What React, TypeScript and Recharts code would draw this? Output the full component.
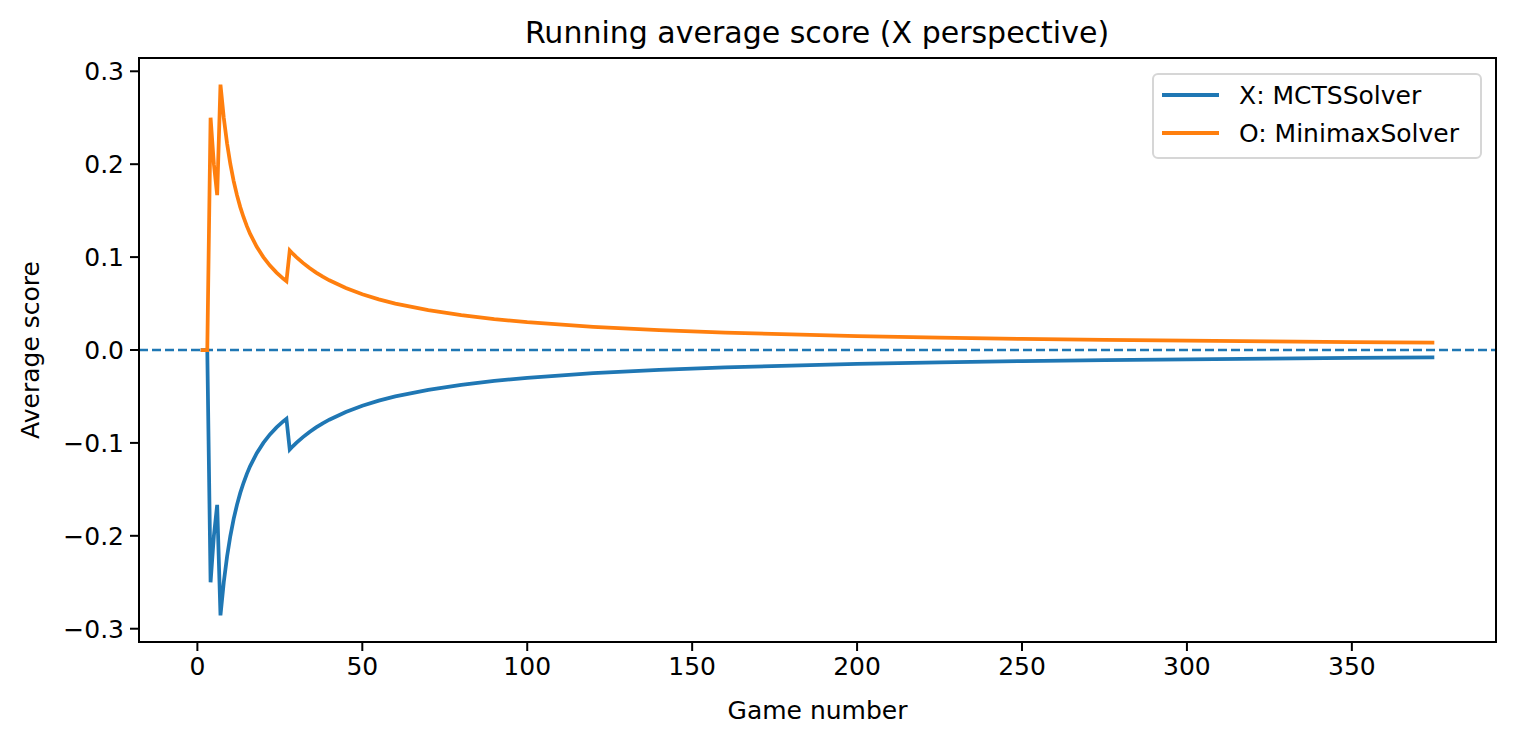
import { LineChart, Line, XAxis, YAxis, ReferenceLine, Label } from 'recharts';

// game index and running averages
const games = [1, 2, 3, 4, 5, 6, 7, 8, 9, 10, 11, 12, 13, 14, 15, 16, 18, 20, 22, 24, 26, 27, 28, 29, 30, 32, 34, 36, 38, 40, 45, 50, 55, 60, 70, 80, 90, 100, 120, 140, 160, 180, 200, 225, 250, 275, 300, 325, 350, 375];
const xScore = [0, 0, 0, -0.25, -0.2, -0.1667, -0.2857, -0.25, -0.2222, -0.2, -0.1818, -0.1667, -0.1538, -0.1429, -0.1333, -0.125, -0.1111, -0.1, -0.0909, -0.0833, -0.0769, -0.0741, -0.1071, -0.1034, -0.1, -0.0938, -0.0882, -0.0833, -0.0789, -0.075, -0.0667, -0.06, -0.0545, -0.05, -0.0429, -0.0375, -0.0333, -0.03, -0.025, -0.0214, -0.0188, -0.0167, -0.015, -0.0133, -0.012, -0.0109, -0.01, -0.0092, -0.0086, -0.008];
const oScore = [0, 0, 0, 0.25, 0.2, 0.1667, 0.2857, 0.25, 0.2222, 0.2, 0.1818, 0.1667, 0.1538, 0.1429, 0.1333, 0.125, 0.1111, 0.1, 0.0909, 0.0833, 0.0769, 0.0741, 0.1071, 0.1034, 0.1, 0.0938, 0.0882, 0.0833, 0.0789, 0.075, 0.0667, 0.06, 0.0545, 0.05, 0.0429, 0.0375, 0.0333, 0.03, 0.025, 0.0214, 0.0188, 0.0167, 0.015, 0.0133, 0.012, 0.0109, 0.01, 0.0092, 0.0086, 0.008];

const xTicks = [0, 50, 100, 150, 200, 250, 300, 350];
const yTicks = [-0.3, -0.2, -0.1, 0, 0.1, 0.2, 0.3];

const seriesNames = ['X: MCTSSolver', 'O: MinimaxSolver'];
const BLUE = '#1f77b4';
const ORANGE = '#ff7f0e';
const FONT = 'DejaVu Sans, sans-serif';

const data = games.map((g, i) => ({ game: g, x: xScore[i], o: oScore[i] }));

function fmtY(v: number) {
  const s = Math.abs(v).toFixed(1);
  return v < 0 ? '\u2212' + s : s;
}

const tickStyle = { fill: '#000', fontSize: 25, fontFamily: FONT };

export default function App() {
  return (
    <div style={{ position: 'absolute', left: 0, top: 0, width: 1514, height: 744, background: '#fff', fontFamily: FONT }}>
      <div style={{ position: 'absolute', left: 517, width: 600, top: 14, textAlign: 'center', fontSize: 30, lineHeight: '38px', color: '#000' }}>
        Running average score (X perspective)
      </div>
      <LineChart width={1514} height={744} data={data} margin={{ top: 58, right: 18, bottom: 0, left: 0 }}>
        <XAxis
          dataKey="game"
          type="number"
          domain={[-17.7, 393.7]}
          ticks={xTicks}
          height={102}
          tick={tickStyle}
          tickSize={9}
          tickMargin={6}
          stroke="#000"
          strokeWidth={2}
          allowDataOverflow
        >
          <Label value="Game number" position="insideBottom" offset={25} style={{ fontSize: 25, fontFamily: FONT, fill: '#000' }} />
        </XAxis>
        <YAxis
          type="number"
          domain={[-0.3143, 0.3143]}
          ticks={yTicks}
          width={139}
          tick={tickStyle}
          tickFormatter={fmtY}
          tickSize={9}
          tickMargin={6}
          stroke="#000"
          strokeWidth={2}
          allowDataOverflow
        >
          <Label value="Average score" angle={-90} position="insideLeft" offset={30} style={{ fontSize: 25, fontFamily: FONT, fill: '#000', textAnchor: 'middle' }} />
        </YAxis>
        <ReferenceLine y={0} stroke={BLUE} strokeWidth={2.5} strokeDasharray="9 4" />
        <Line type="linear" dataKey="x" name={seriesNames[0]} stroke={BLUE} strokeWidth={3.75} dot={false} isAnimationActive={false} />
        <Line type="linear" dataKey="o" name={seriesNames[1]} stroke={ORANGE} strokeWidth={3.75} dot={false} isAnimationActive={false} />
      </LineChart>
      {/* axes frame (top and right spines) */}
      <div
        style={{
          position: 'absolute',
          left: 138,
          top: 57,
          width: 1359,
          height: 586,
          boxSizing: 'border-box',
          border: '2px solid #000',
          pointerEvents: 'none',
        }}
      />
      <div
        style={{
          position: 'absolute',
          left: 1152,
          top: 73,
          width: 326,
          height: 82,
          border: '2px solid #d6d6d6',
          borderRadius: 6,
          background: 'rgba(255,255,255,0.8)',
        }}
      >
        {seriesNames.map((name, i) => (
          <div key={name} style={{ position: 'absolute', left: 8, top: i === 0 ? 2 : 40, height: 36, display: 'flex', alignItems: 'center' }}>
            <div style={{ width: 57, height: 4, background: i === 0 ? BLUE : ORANGE }} />
            <span style={{ marginLeft: 20, fontSize: 25, color: '#000', whiteSpace: 'nowrap' }}>{name}</span>
          </div>
        ))}
      </div>
    </div>
  );
}
